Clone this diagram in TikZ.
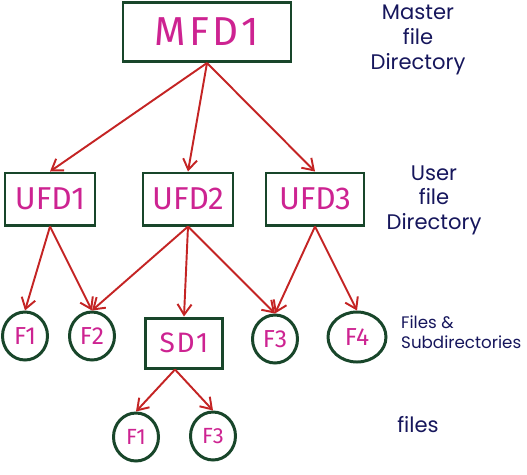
\documentclass[tikz,border=0pt]{standalone}
\usepackage{fontspec}
\setmainfont{Fira Sans}
\newfontfamily\notefont{Poppins}
\usetikzlibrary{arrows.meta,shapes.geometric}
\definecolor{boxgreen}{RGB}{24,70,42}
\definecolor{namepink}{RGB}{205,35,145}
\definecolor{arrowred}{RGB}{196,36,36}
\definecolor{notenavy}{RGB}{22,22,92}

\begin{document}
\begin{tikzpicture}[x=0.02cm,y=-0.02cm,->,>={Straight Barb[length=6pt,width=8pt]}]
      \tikzstyle{every edge}=[draw=arrowred,line width=1.1pt]
      \tikzstyle{dir}=[rectangle,draw=boxgreen,line width=1.7pt,text=namepink,inner sep=0pt]
      \tikzstyle{master dir}=[dir,minimum width=168*0.02cm,minimum height=59*0.02cm,font=\fontsize{23}{23}\selectfont]
      \tikzstyle{user dir}=[dir,minimum width=90*0.02cm,minimum height=52*0.02cm,font=\fontsize{18}{18}\selectfont]
      \tikzstyle{sub dir}=[dir,minimum width=77*0.02cm,minimum height=50*0.02cm,font=\fontsize{16}{16}\selectfont]
      \tikzstyle{file}=[ellipse,draw=boxgreen,line width=1.7pt,text=namepink,inner sep=0pt,minimum width=45*0.02cm,minimum height=48*0.02cm,font=\fontsize{14}{14}\selectfont]
      \tikzstyle{note}=[text=notenavy,font=\notefont\fontsize{12}{14}\selectfont]

      \useasboundingbox (0,0) rectangle (527,474);

      % Draw the master directory
      \node[master dir] (MFD1) at (207,32) {\addfontfeature{LetterSpace=8}MFD1};

      % Draw the user directories
      \node[user dir] (UFD1) at (50,199) {UFD1};
      \node[user dir] (UFD2) at (188,199) {UFD2};
      \node[user dir, minimum width=98*0.02cm] (UFD3) at (315,199) {UFD3};

      % Draw the files and the subdirectory
      \node[file] (F1) at (25,336) {F1};
      \node[file] (F2) at (92,336) {F2};
      \node[sub dir] (SD1) at (184,343) {\addfontfeature{LetterSpace=6}SD1};
      \node[file] (F3) at (275,339) {F3};
      \node[file, minimum width=58*0.02cm, minimum height=50*0.02cm] (F4) at (357,337) {F4};

      % Draw the files of the subdirectory
      \node[file, font=\fontsize{12.5}{12.5}\selectfont] (SF1) at (136,437) {F1};
      \node[file, font=\fontsize{12.5}{12.5}\selectfont] (SF3) at (213,436) {F3};

      % Connect the directories
      \foreach \dest in {UFD1,UFD2,UFD3}
          \path (MFD1.south) edge (\dest.north);
      \foreach \dest in {F1,F2}
          \path (UFD1.south) edge (\dest.north);
      \foreach \dest in {F2,SD1,F3}
          \path (UFD2.south) edge (\dest.north);
      \foreach \dest in {F3,F4}
          \path (UFD3.south) edge (\dest.north);
      \foreach \dest in {SF1,SF3}
          \path ([xshift=-9*0.02cm]SD1.south) edge (\dest.north);

      % Annotate the levels
      \node[note, align=center] (ml) at (418,40) {Master\\file\\Directory};
      \node[note, align=center] (ul) at (434,200) {User\\file\\Directory};
      \node[note, align=left, anchor=west, font=\notefont\fontsize{9.5}{11.5}\selectfont] (fl) at (395,332) {Files \&\\Subdirectories};
      \node[note] (sl) at (418,425) {files};
\end{tikzpicture}
\end{document}
